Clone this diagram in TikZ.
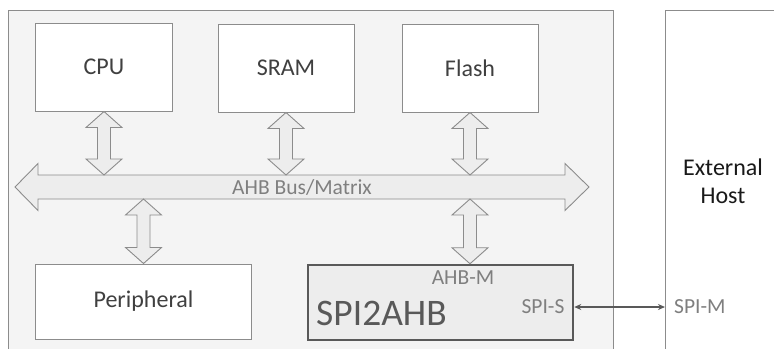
\documentclass[tikz,border=0pt]{standalone}
\usepackage{fontspec}
\setmainfont{Carlito}
\usetikzlibrary{arrows.meta, calc}

\definecolor{socbg}{HTML}{F4F4F4}
\definecolor{edgegray}{HTML}{8C8C8C}
\definecolor{linkfill}{HTML}{EDEDED}
\definecolor{labeltxt}{HTML}{404040}
\definecolor{mutedtxt}{HTML}{7F7F7F}
\definecolor{darkline}{HTML}{595959}

% fat two-headed arrow between an upper and a lower point
\newcommand{\vlink}[2]{%
  \filldraw[link] (#1) -- ++(18,16) -- ++(-11.5,0) -- ($(#2)+(6.5,-16)$) -- ++(11.5,0) -- (#2)
    -- ++(-18,-16) -- ++(11.5,0) -- ($(#1)+(-6.5,16)$) -- ++(-11.5,0) -- cycle;}

\begin{document}
\begin{tikzpicture}[
  x=1bp, y=-1bp,
  soc/.style={draw=edgegray, fill=socbg, line width=1bp, anchor=north west, inner sep=0pt},
  host/.style={draw=edgegray, fill=white, line width=1bp, anchor=north west, inner sep=0pt},
  block/.style={draw=edgegray, fill=white, line width=1bp, text=labeltxt, font=\fontsize{24bp}{28bp}\selectfont},
  bridge/.style={draw=darkline, fill=linkfill, line width=2.5bp},
  link/.style={draw=edgegray, fill=linkfill, line width=0.9bp, line join=miter},
  port/.style={text=mutedtxt, inner sep=0pt, font=\fontsize{21.5bp}{25bp}\selectfont},
  spiline/.style={draw=darkline, line width=1.6bp, {Stealth[length=7bp,width=6bp]}-{Stealth[length=7bp,width=6bp]}}
]
\useasboundingbox (0,0) rectangle (774,348);

\node[soc, minimum width=605bp, minimum height=350bp] (soc) at (8,10) {};
\node[host, minimum width=130bp, minimum height=350bp] (host) at (665,10) {};

\node[block, minimum width=136bp, minimum height=88bp] (cpu) at (104,67) {CPU};
\node[block, minimum width=136bp, minimum height=88bp] (sram) at (286,68) {SRAM};
\node[block, minimum width=136bp, minimum height=88bp] (flash) at (470,68) {Flash};
\node[block, minimum width=215bp, minimum height=75bp] (peri) at (143.5,301.5) {Peripheral};
\node[bridge, minimum width=265bp, minimum height=75bp] (spi) at (440.5,302.5) {};

% bus
\coordinate (bt) at (0,175);
\coordinate (bb) at (0,199);
\filldraw[link] (15,187) -- (38,163.5) -- (38,175) -- (565,175) -- (565,163.5) -- (589,187)
  -- (565,210.5) -- (565,199) -- (38,199) -- (38,210.5) -- cycle;
\node[port] (bus) at (302,187) {AHB Bus/Matrix};

\vlink{cpu.south}{cpu.south |- bt}
\vlink{sram.south}{sram.south |- bt}
\vlink{flash.south}{flash.south |- bt}
\vlink{peri.north |- bb}{peri.north}
\vlink{flash.south |- bb}{flash.south |- spi.north}

\node[inner sep=0pt, anchor=base west, text=darkline, font=\fontsize{37.5bp}{42bp}\selectfont] (spiname) at (316,325) {SPI2AHB};
\node[port] (ahbm) at (463,278) {AHB-M};
\node[port] (spis) at (543,307) {SPI-S};
\node[port, anchor=west] (spim) at ($(host.west |- spis)+(9,0)$) {SPI-M};
\node[align=center, text=black!90, font=\fontsize{24bp}{28bp}\selectfont] (hostname) at (723,181) {External\\Host};

\draw[spiline] (spi.east |- spis) -- (host.west |- spis);
\end{tikzpicture}
\end{document}
